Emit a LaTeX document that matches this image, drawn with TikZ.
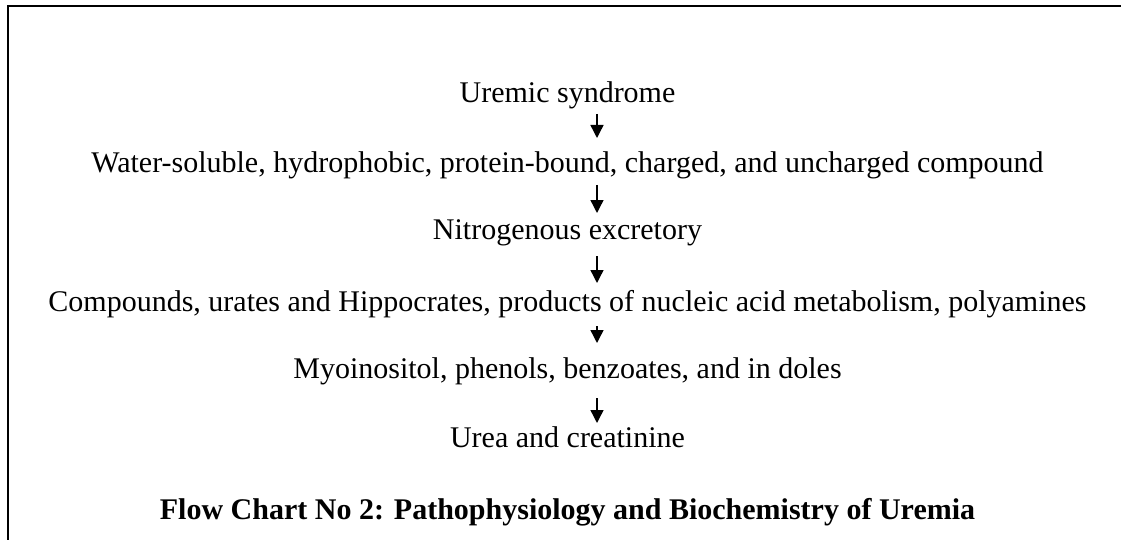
\documentclass[tikz,border=0pt]{standalone}
\usepackage{fontspec}
\setmainfont{Liberation Serif}
\usetikzlibrary{arrows.meta}

\begin{document}
\begin{tikzpicture}[x=.5pt, y=-.5pt,
    every node/.style={font=\fontsize{15}{18}\selectfont, inner sep=0pt, anchor=base},
    flow/.style={-{Triangle[width=6.5pt,length=6.5pt]}, line width=.7pt}]
  \useasboundingbox (0,0) rectangle (1125,540);
  \draw[line width=.6pt] (8,540) -- (8,6) -- (1121,6);
  \node (syn) at (567.5,103) {Uremic syndrome};
  \node (comp) at (567.5,172) {Water-soluble, hydrophobic, protein-bound, charged, and uncharged compound};
  \node (nitro) at (567.5,240) {Nitrogenous excretory};
  \node (urates) at (567.5,311) {Compounds, urates and Hippocrates, products of nucleic acid metabolism, polyamines};
  \node (myo) at (567.5,378) {Myoinositol, phenols, benzoates, and in doles};
  \node (urea) at (567.5,447) {Urea and creatinine};
  \node[font=\bfseries\fontsize{15}{18}\selectfont] (title) at (567.5,519) {Flow Chart No 2: Pathophysiology and Biochemistry of Uremia};
  \draw[flow] ([shift={(29.5,11)}]syn.base) -- ([shift={(29.5,-34)}]comp.base);
  \draw[flow] ([shift={(29.5,13)}]comp.base) -- ([shift={(29.5,-27)}]nitro.base);
  \draw[flow] ([shift={(29.5,16)}]nitro.base) -- ([shift={(29.5,-28)}]urates.base);
  \draw[flow] ([shift={(29.5,15)}]urates.base) -- ([shift={(29.5,-35)}]myo.base);
  \draw[flow] ([shift={(29.5,20)}]myo.base) -- ([shift={(29.5,-24)}]urea.base);
\end{tikzpicture}
\end{document}
